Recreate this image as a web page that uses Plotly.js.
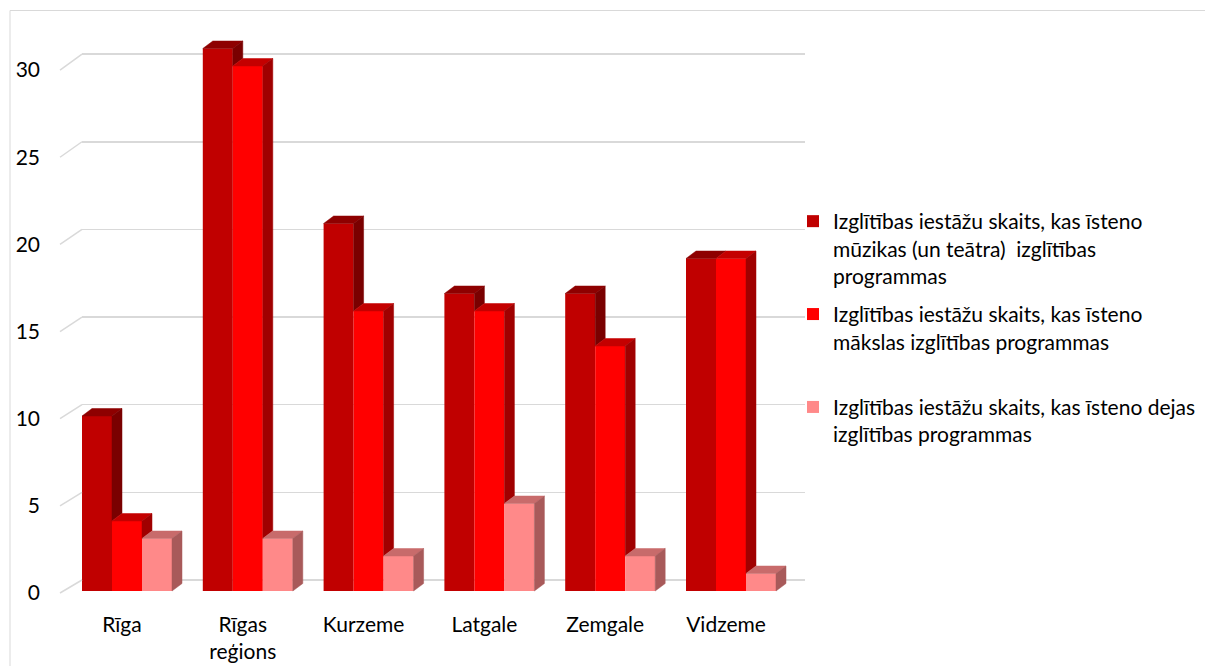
<!DOCTYPE html>
<html>
<head>
<meta charset="utf-8">
<script src="https://cdn.plot.ly/plotly-3.0.1.min.js"></script>
<style>html,body{margin:0;padding:0;background:#fff;}#chart{width:1205px;height:666px;}</style>
</head>
<body>
<div id="chart"></div>
<script>
// ---- data ----
const categories = ['Rīga', 'Rīgas reģions', 'Kurzeme', 'Latgale', 'Zemgale', 'Vidzeme'];
const tickLabels = ['Rīga', 'Rīgas<br>reģions', 'Kurzeme', 'Latgale', 'Zemgale', 'Vidzeme'];
const musicValues = [10, 31, 21, 17, 17, 19];
const artValues = [4, 30, 16, 16, 14, 19];
const danceValues = [3, 3, 2, 5, 2, 1];
const seriesNames = [
  'Izglītības iestāžu skaits, kas īsteno<br>mūzikas (un teātra)  izglītības<br>programmas',
  'Izglītības iestāžu skaits, kas īsteno<br>mākslas izglītības programmas<br> ',
  'Izglītības iestāžu skaits, kas īsteno dejas<br>izglītības programmas'
];
const yTicks = [0, 5, 10, 15, 20, 25, 30];

// ---- styles / geometry ----
const FONT = 'Lato, "Open Sans", sans-serif';
const FS = 21;
const frontColors = ['#C00000', '#FF0000', '#FF8989'];
const topColors = ['#8E0000', '#C40000', '#C86B6B'];
const sideColors = ['#7A0000', '#A00000', '#A85A5A'];
const W = 1205, H = 666;
const PL = 82, PR = 805, PT = 30, PB = 600;
const xPx = 120.8;             // px per category
const x0Px = 127;              // px of category 0 centre
const barScale = 17.5, barZero = 591;   // front faces of bars
const gridScale = 17.53, gridZero = 580; // back wall
const labScale = 17.43, labZero = 593;   // front tick labels
const groupW = 0.745, bw = groupW / 3;
const dx = 10 / xPx, dy = 7.5 / barScale;

const xRange = [-(x0Px - PL) / xPx, (PR - x0Px) / xPx];
const yRange = [-(PB - barZero) / barScale, (barZero - PT) / barScale];
const y2Range = [-(PB - gridZero) / gridScale, (gridZero - PT) / gridScale];
const y3Range = [-(PB - labZero) / labScale, (labZero - PT) / labScale];

const series = [musicValues, artValues, danceValues];
const idx = categories.map((c, i) => i);
const traces = [];

// front faces (bars)
series.forEach((vals, s) => {
  traces.push({
    type: 'bar', x: idx, y: vals, name: seriesNames[s], legendgroup: 'g' + s,
    marker: {color: frontColors[s], line: {width: 0}},
    hoverinfo: 'y', showlegend: true
  });
});

// top & side faces
series.forEach((vals, s) => {
  const tx = [], ty = [], sx = [], sy = [];
  vals.forEach((v, c) => {
    const xl = c - groupW / 2 + s * bw, xr = xl + bw;
    tx.push(xl, xl + dx, xr + dx, xr, xl, null);
    ty.push(v, v + dy, v + dy, v, v, null);
    const nextV = s < series.length - 1 ? series[s + 1][c] : 0;
    if (nextV < v) {
      sx.push(xr, xr, xr + dx, xr + dx, xr, null);
      sy.push(nextV, v, v + dy, nextV + dy, nextV, null);
    }
  });
  traces.push({type: 'scatter', mode: 'lines', x: tx, y: ty, fill: 'toself',
    fillcolor: topColors[s], line: {width: 0.5, color: topColors[s]},
    legendgroup: 'g' + s, showlegend: false, hoverinfo: 'skip'});
  traces.push({type: 'scatter', mode: 'lines', x: sx, y: sy, fill: 'toself',
    fillcolor: sideColors[s], line: {width: 0.5, color: sideColors[s]},
    legendgroup: 'g' + s, showlegend: false, hoverinfo: 'skip'});
});

// helper traces for the grid (back wall) axis and the label axis
traces.push({type: 'scatter', x: [], y: [], yaxis: 'y2', showlegend: false, hoverinfo: 'skip'});
traces.push({type: 'scatter', x: [], y: [], yaxis: 'y3', showlegend: false, hoverinfo: 'skip'});

// decorative side-wall diagonals and outer border
const pxToPaperX = p => (p - PL) / (PR - PL);
const pxToPaperY = p => (PB - p) / (PB - PT);
const shapes = yTicks.map(v => ({
  type: 'line', xref: 'paper', yref: 'paper',
  x0: pxToPaperX(60), y0: pxToPaperY(labZero - labScale * v),
  x1: pxToPaperX(PL), y1: pxToPaperY(gridZero - gridScale * v),
  line: {color: '#D9D9D9', width: 1.5}
}));
shapes.push({type: 'rect', xref: 'paper', yref: 'paper',
  x0: pxToPaperX(10), x1: pxToPaperX(1215), y0: pxToPaperY(690), y1: pxToPaperY(10.5),
  line: {color: '#D9D9D9', width: 1}, fillcolor: 'rgba(0,0,0,0)'});

const layout = {
  width: W, height: H,
  margin: {l: PL, r: W - PR, t: PT, b: H - PB, pad: 0, autoexpand: false},
  paper_bgcolor: '#ffffff', plot_bgcolor: 'rgba(0,0,0,0)',
  font: {family: FONT, size: FS, color: '#000000'},
  barmode: 'group', bargap: 1 - groupW, bargroupgap: 0,
  showlegend: true,
  xaxis: {range: xRange, tickvals: idx, ticktext: tickLabels, ticks: '',
    showgrid: false, zeroline: false, showline: false, fixedrange: true,
    ticklabelstandoff: 10, ticklabelshift: -5, tickfont: {family: FONT, size: FS}},
  yaxis: {range: yRange, showgrid: false, zeroline: false, showline: false,
    showticklabels: false, ticks: '', fixedrange: true},
  yaxis2: {range: y2Range, overlaying: 'y', tickvals: yTicks, showgrid: true,
    gridcolor: '#D9D9D9', gridwidth: 1.5, zeroline: false, showline: false,
    showticklabels: false, ticks: '', fixedrange: true},
  yaxis3: {range: y3Range, overlaying: 'y', side: 'left', tickvals: yTicks,
    showgrid: false, zeroline: false, showline: false, ticks: '',
    ticklabelstandoff: 41, tickfont: {family: FONT, size: FS}, fixedrange: true},
  legend: {x: pxToPaperX(793), xanchor: 'left', y: pxToPaperY(201), yanchor: 'top',
    valign: 'top', font: {family: FONT, size: FS}, bgcolor: 'rgba(0,0,0,0)',
    traceorder: 'grouped', tracegroupgap: 8, itemclick: false, itemdoubleclick: false},
  shapes: shapes,
  hovermode: false
};

Plotly.newPlot('chart', traces, layout, {displayModeBar: false, staticPlot: true});
</script>
</body>
</html>
